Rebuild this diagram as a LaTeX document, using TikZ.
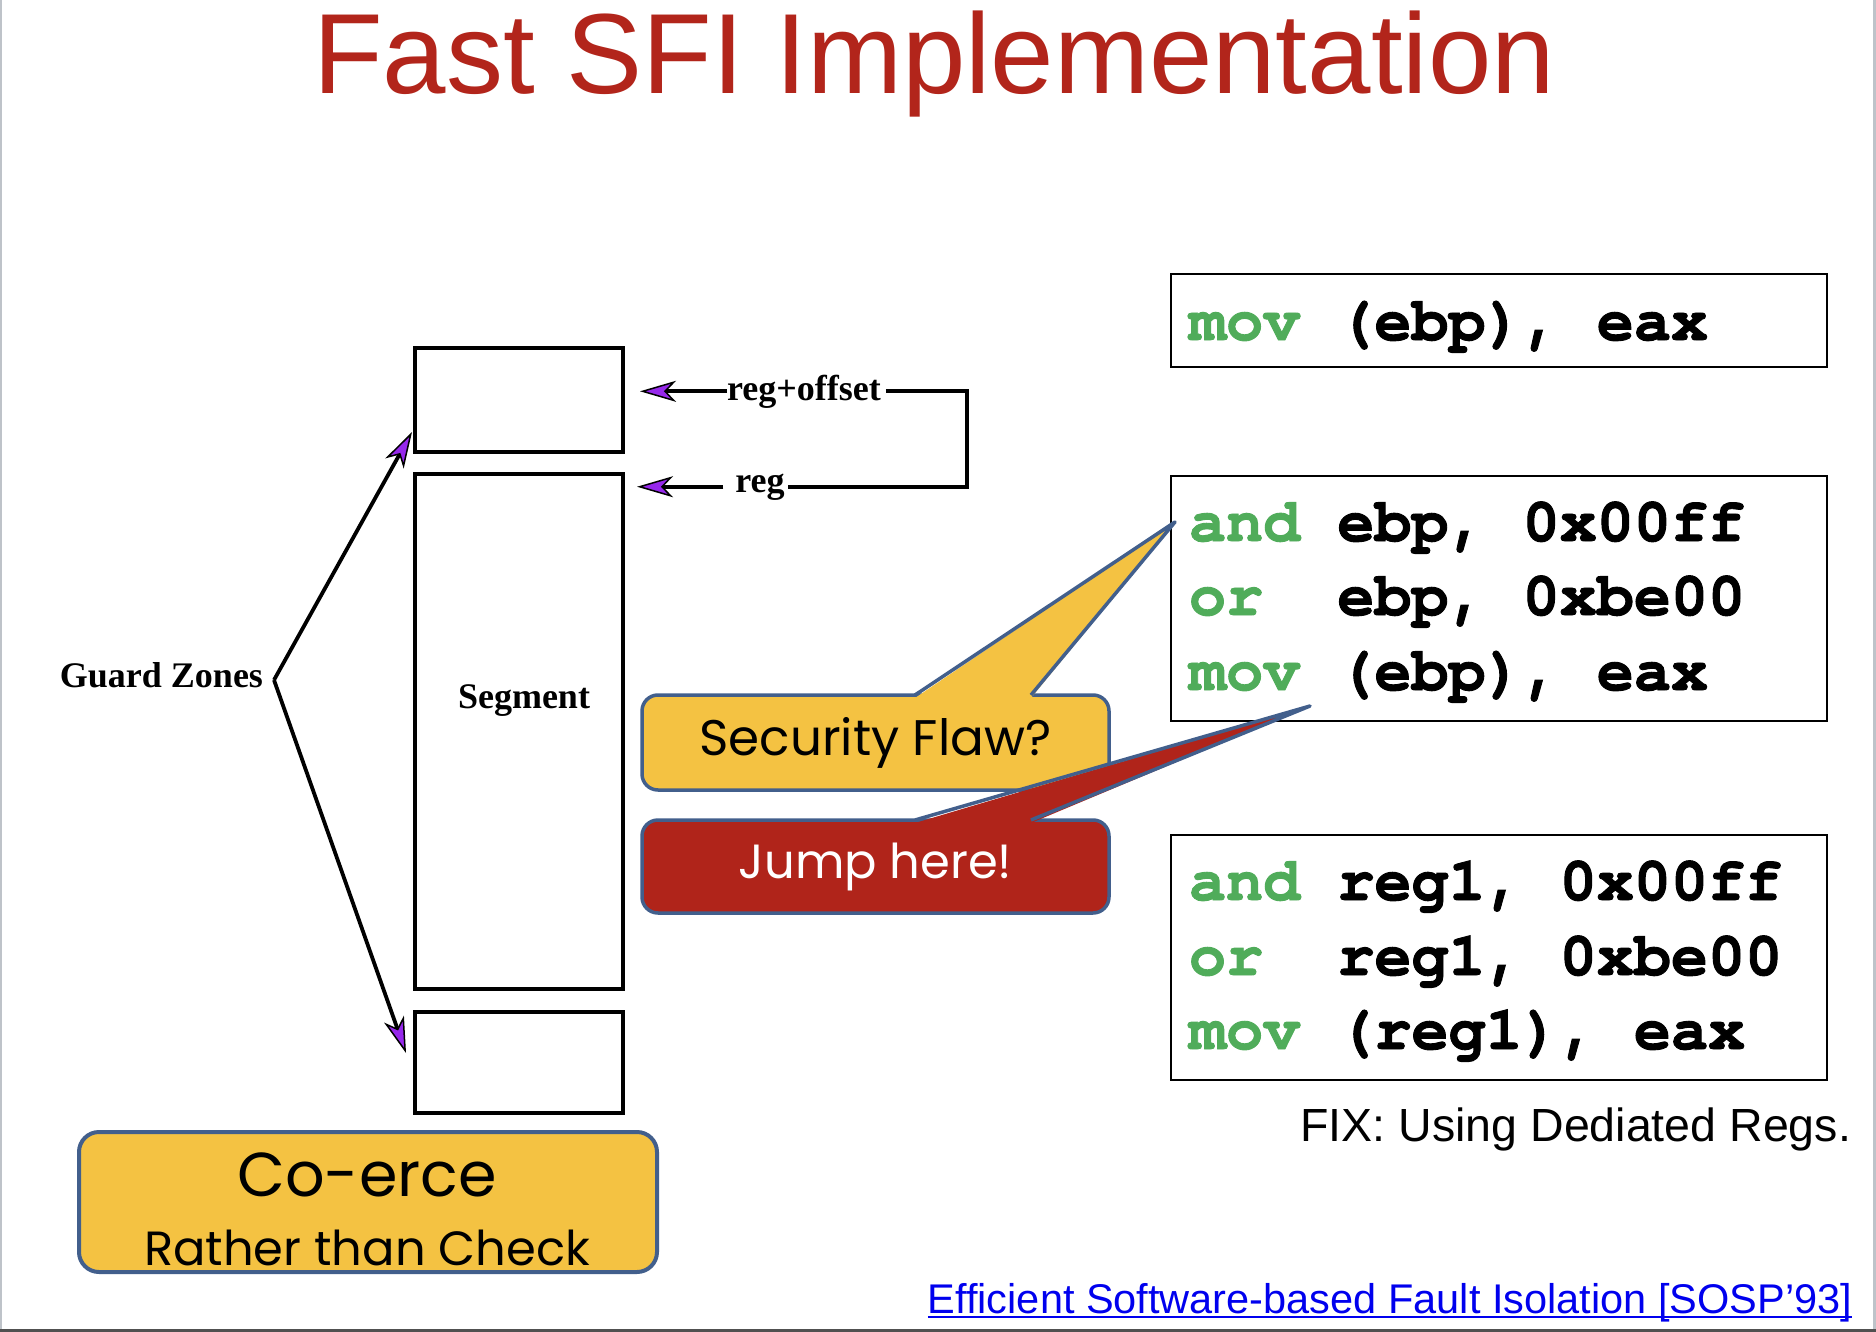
\documentclass[tikz,border=0pt]{standalone}
\usepackage{fontspec}
\setmainfont{Liberation Serif}
\newfontfamily\slidesans{Liberation Sans}
\newfontfamily\comicfont{Poppins}
\newfontfamily\codefont{texgyrecursor-bold.otf}[Ligatures=NoCommon, FakeBold=1.5]
\usetikzlibrary{arrows.meta,calc}

\definecolor{titlered}{RGB}{178,37,27}
\definecolor{codegreen}{RGB}{80,172,90}
\definecolor{flawyellow}{RGB}{244,194,66}
\definecolor{calloutblue}{RGB}{66,95,140}
\definecolor{jumpred}{RGB}{176,36,26}
\definecolor{headpurple}{RGB}{150,40,235}
\definecolor{linkblue}{RGB}{0,0,238}
\definecolor{edgegray}{RGB}{190,195,201}
\definecolor{footgray}{RGB}{80,80,80}

\begin{document}
\begin{tikzpicture}[x=1pt,y=-1pt,
  every node/.style={inner sep=0pt, outer sep=0pt},
  memblock/.style={draw=black, line width=4pt, minimum width=208pt},
  memlabel/.style={font=\bfseries\fontsize{36}{40}\selectfont},
  wire/.style={draw=black, line width=3.8pt},
  memarrow/.style={wire, -{Stealth[length=36pt, width=21pt, inset=10pt, fill=headpurple, line width=1.5pt]}},
  codebox/.style={draw=black, line width=1.6pt, minimum width=656pt},
  codeline/.style={anchor=base west, font=\codefont\fontsize{61.8}{75}\selectfont},
  callout/.style={draw=calloutblue, line width=3.5pt, rounded corners=16pt},
  calloutedge/.style={draw=calloutblue, line width=3.5pt, line join=round},
  comic/.style={font=\comicfont\fontsize{#1}{#1}\selectfont}
]
% slide background and its edges
\fill[white] (0,0) rectangle (1876,1332);
\fill[edgegray] (0,0) rectangle (2,1332);
\fill[edgegray] (1873,0) rectangle (1876,1332);
\fill[footgray] (0,1329) rectangle (1876,1332);

% title
\node[anchor=base, text=titlered, font=\slidesans\fontsize{114}{120}\selectfont] (title) at (934,94) {Fast SFI Implementation};

% memory layout: guard zones around the segment
\node[memblock, minimum height=104pt] (topzone) at (519,400) {};
\node[memblock, minimum height=515pt] (segment) at (519,731.5) {};
\node[memblock, minimum height=101pt] (botzone) at (519,1062.5) {};
\node[memlabel, anchor=base] (seglabel) at (524,708) {Segment};

\node[memlabel, anchor=base east] (guard) at (263,687) {Guard Zones};
\coordinate (gz) at (274,680);
\coordinate (toptip) at (412,432);
\coordinate (bottip) at (406,1053);
\draw[memarrow] (gz) -- (toptip);
\draw[memarrow] (gz) -- (bottip);

% register pointers
\node[memlabel, anchor=base] (regoff) at (804,400) {reg+offset};
\node[memlabel, anchor=base] (reg) at (760,492) {reg};
\draw[memarrow] (regoff.west) -- ([xshift=17pt]regoff.west -| topzone.east);
\draw[memarrow] ([xshift=-12pt]reg.west) -- ([xshift=14pt]reg.west -| segment.east);
\draw[wire] ([xshift=5pt]regoff.east) -- ++(81,0) |- ([xshift=3pt]reg.east);

% code fragments
\node[codebox, minimum height=93pt] (movbox) at (1499,320.5) {};
\node[codebox, minimum height=245pt] (maskbox) at (1499,598.5) {};
\node[codebox, minimum height=245pt] (fixbox) at (1499,957.5) {};

\node[codeline] (m1) at (1189,340) {\textcolor{codegreen}{mov}~(ebp),~eax};

\node[codeline] (k1) at (1189,541) {\textcolor{codegreen}{and}~ebp,~0x00ff};
\node[codeline] (k2) at (1189,615) {\textcolor{codegreen}{or}~~ebp,~0xbe00};
\node[codeline] (k3) at (1189,690) {\textcolor{codegreen}{mov}~(ebp),~eax};

\node[codeline] (f1) at (1189,900) {\textcolor{codegreen}{and}~reg1,~0x00ff};
\node[codeline] (f2) at (1189,975) {\textcolor{codegreen}{or}~~reg1,~0xbe00};
\node[codeline] (f3) at (1189,1049) {\textcolor{codegreen}{mov}~(reg1),~eax};

\node[anchor=base east, font=\slidesans\fontsize{46.5}{50}\selectfont] (fixnote) at (1851,1141) {FIX: Using Dediated Regs.};

% callouts
\node[callout, fill=flawyellow, minimum width=467pt, minimum height=95pt, comic=50] (flaw) at (875.5,742.5) {Security Flaw?};
\coordinate (flawtip) at (1175,522);
\fill[flawyellow] ([xshift=273pt,yshift=-3pt]flaw.north west) -- (flawtip) -- ([xshift=389pt,yshift=-3pt]flaw.north west) -- cycle;
\draw[calloutedge] ([xshift=273pt]flaw.north west) -- (flawtip) -- ([xshift=389pt]flaw.north west);

\node[callout, fill=jumpred, text=white, minimum width=467pt, minimum height=93pt, comic=48] (jump) at (875.5,866.5) {Jump here!};
\coordinate (jumptip) at (1310,706);
\fill[jumpred] ([xshift=273pt,yshift=-3pt]jump.north west) -- (jumptip) -- ([xshift=389pt,yshift=-3pt]jump.north west) -- cycle;
\draw[calloutedge] ([xshift=273pt]jump.north west) -- (jumptip) -- ([xshift=389pt]jump.north west);

% motto
\node[callout, line width=4pt, rounded corners=20pt, fill=flawyellow, minimum width=578pt, minimum height=140pt] (motto) at (368,1202) {};
\node[anchor=base, comic=62] (coerce) at (367,1196) {Co-erce};
\node[anchor=base, comic=48] (rather) at (367,1265) {Rather than Check};

% reference link
\node[anchor=base east, text=linkblue, font=\slidesans\fontsize{41.5}{45}\selectfont] (link) at (1852,1313) {Efficient Software-based Fault Isolation [SOSP’93]};
\draw[linkblue, line width=2.5pt] ([yshift=-4pt]link.base west) -- ([yshift=-4pt]link.base east);
\end{tikzpicture}
\end{document}
